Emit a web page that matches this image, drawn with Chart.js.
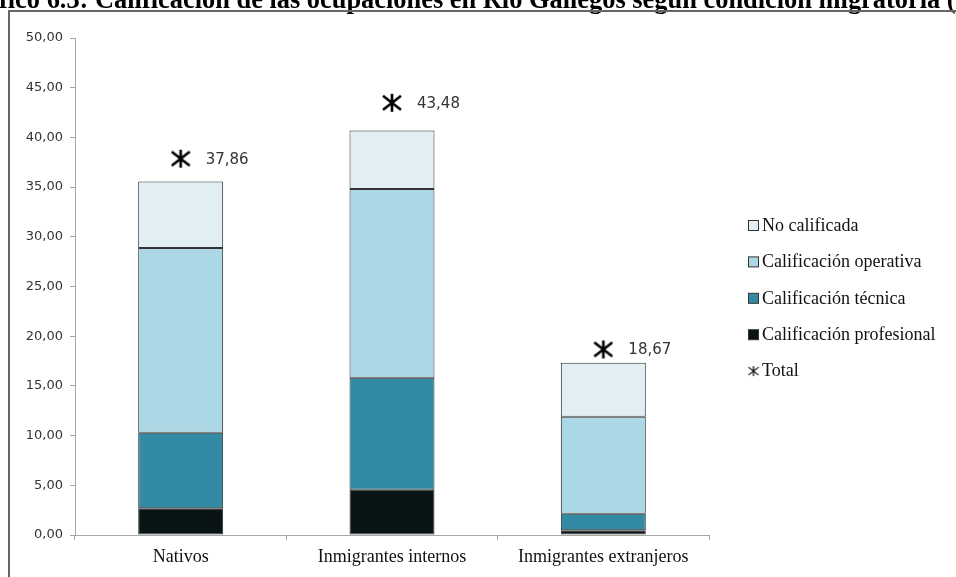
<!DOCTYPE html>
<html lang="es">
<head>
<meta charset="utf-8">
<title>Calificación de las ocupaciones en Río Gallegos</title>
<script src="https://cdn.jsdelivr.net/npm/chart.js@4/dist/chart.umd.min.js"></script>
<style>
    html, body { margin: 0; padding: 0; background: #fff; }
    #wrap { width: 956px; height: 577px; position: relative; }
</style>
</head>
<body>
<div id="wrap"><canvas id="grafico" width="956" height="577"></canvas></div>
<script>
const titulo = 'Gráfico 6.3: Calificación de las ocupaciones en Río Gallegos según condición migratoria (%)';

const categorias = ['Nativos', 'Inmigrantes internos', 'Inmigrantes extranjeros'];

const profesional = [2.70, 4.55, 0.48];
const tecnica = [7.59, 11.28, 1.65];
const operativa = [18.59, 18.99, 9.77];
const noCalificada = [6.69, 5.88, 5.44];
const total = [37.86, 43.48, 18.67];

const ejeMin = 0;
const ejeMax = 50;
const ejePaso = 5;

const coma = v => v.toFixed(2).replace('.', ',');

// asterisco de seis brazos para el total
function asterisco(size, lw) {
    const c = document.createElement('canvas');
    c.width = size;
    c.height = size;
    const g = c.getContext('2d');
    const m = size / 2;
    const r = size / 2 - 1;
    g.strokeStyle = '#000';
    g.lineWidth = lw;
    g.beginPath();
    g.moveTo(m, m - r); g.lineTo(m, m + r);
    g.moveTo(m - r, m - r * 0.78); g.lineTo(m + r, m + r * 0.78);
    g.moveTo(m - r, m + r * 0.78); g.lineTo(m + r, m - r * 0.78);
    g.stroke();
    return c;
}

const marcaTotal = asterisco(20, 2.6);
const marcaLeyenda = asterisco(12, 1.2);

const barra = (label, data, color) => ({
    type: 'bar',
    label,
    data,
    backgroundColor: color,
    borderColor: '#333',
    borderWidth: 1,
    borderSkipped: false,
    barPercentage: 0.402,
    categoryPercentage: 1
});

const marco = {
    id: 'marco',
    beforeDraw(chart) {
        const ctx = chart.ctx;
        ctx.save();
        ctx.fillStyle = '#fff';
        ctx.fillRect(0, 0, chart.width, chart.height);

        ctx.font = 'bold 26.4px "Liberation Serif"';
        ctx.fillStyle = '#000';
        ctx.textBaseline = 'alphabetic';
        const corte = ctx.measureText('Grá').width;
        ctx.fillText(titulo, -1 - corte, 8);

        ctx.strokeStyle = '#666';
        ctx.lineWidth = 2;
        ctx.beginPath();
        ctx.moveTo(chart.width, 11);
        ctx.lineTo(9, 11);
        ctx.lineTo(9, chart.height);
        ctx.stroke();
        ctx.restore();
    },
    afterDraw(chart) {
        const ctx = chart.ctx;
        ctx.save();

        // valores del total junto a cada asterisco
        const iTotal = chart.data.datasets.findIndex(d => d.type === 'line');
        const meta = chart.getDatasetMeta(iTotal);
        ctx.font = '15px "DejaVu Sans"';
        ctx.fillStyle = '#333';
        ctx.textAlign = 'left';
        ctx.textBaseline = 'middle';
        meta.data.forEach((p, i) => {
            ctx.fillText(coma(chart.data.datasets[iTotal].data[i]), p.x + 25, p.y + 1);
        });

        // leyenda
        const barras = chart.data.datasets.filter(d => d.type === 'bar').reverse();
        const items = [...barras, chart.data.datasets[iTotal]];
        const x = 748;
        let y = 225;
        ctx.font = '18px "Liberation Serif"';
        items.forEach(d => {
            if (d.type === 'bar') {
                ctx.fillStyle = d.backgroundColor;
                ctx.fillRect(x + 0.5, y - 4.5, 10, 10);
                ctx.strokeStyle = '#333';
                ctx.lineWidth = 1;
                ctx.strokeRect(x + 0.5, y - 4.5, 10, 10);
            } else {
                ctx.drawImage(marcaLeyenda, x - 0.5, y - 5.5);
            }
            ctx.fillStyle = '#111';
            ctx.fillText(d.label, x + 14, y + 1);
            y += 36.4;
        });
        ctx.restore();
    }
};

const ctx = document.getElementById('grafico');

const grafico = new Chart(ctx, {
    data: {
        labels: categorias,
        datasets: [
            barra('Calificación profesional', profesional, '#081416'),
            barra('Calificación técnica', tecnica, '#338aa4'),
            barra('Calificación operativa', operativa, '#acd7e4'),
            barra('No calificada', noCalificada, '#e1eff5'),
            {
                type: 'line',
                label: 'Total',
                data: total,
                showLine: false,
                pointStyle: marcaTotal,
                pointRadius: 10,
                order: -1
            }
        ]
    },
    options: {
        responsive: false,
        animation: false,
        layout: {
            padding: { top: 38, right: 247, bottom: 0, left: 0 }
        },
        plugins: {
            legend: { display: false },
            tooltip: { enabled: false }
        },
        scales: {
            x: {
                stacked: true,
                border: { color: '#a6a6a6', width: 1 },
                grid: {
                    drawOnChartArea: false,
                    tickLength: 5,
                    color: '#a6a6a6'
                },
                ticks: {
                    color: '#111',
                    padding: 6,
                    font: { family: '"Liberation Serif"', size: 18 }
                },
                afterFit: s => { s.height = 42; }
            },
            y: {
                stacked: true,
                min: ejeMin,
                max: ejeMax,
                border: { color: '#a6a6a6', width: 1 },
                grid: {
                    drawOnChartArea: false,
                    tickLength: 5,
                    color: '#a6a6a6'
                },
                ticks: {
                    stepSize: ejePaso,
                    color: '#333',
                    padding: 7,
                    font: { family: '"DejaVu Sans"', size: 13 },
                    callback: v => coma(v)
                },
                afterFit: s => { s.width = 75; }
            }
        }
    },
    plugins: [marco]
});
</script>
</body>
</html>
